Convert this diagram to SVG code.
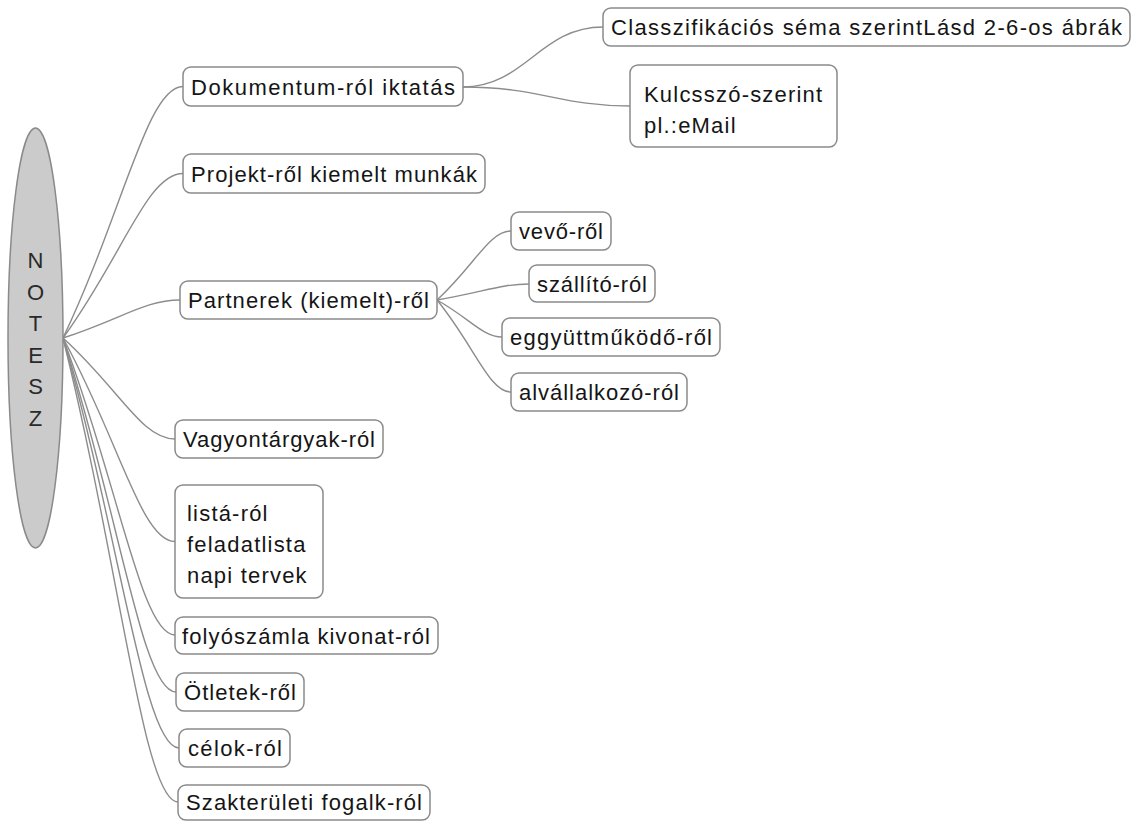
<svg xmlns="http://www.w3.org/2000/svg" width="1139" height="821" viewBox="0 0 1139 821">
<style>
.box{fill:#ffffff;stroke:#8a8a8a;stroke-width:1.5}
.t{font-family:"Liberation Sans",Arial,sans-serif;font-size:22px;fill:#151515}
.ml{letter-spacing:1.2px}
.c{fill:none;stroke:#8c8c8c;stroke-width:1.4}
.root{fill:#cbcbcb;stroke:#8a8a8a;stroke-width:1.5}
.rt{font-family:"Liberation Sans",Arial,sans-serif;font-size:22px;fill:#2a2a2a;text-anchor:middle}
</style>
<rect width="1139" height="821" fill="#ffffff"/>
<g id="connectors">
<path class="c" d="M63 338 C123 212.25 147 86.5 183 86.5"/>
<path class="c" d="M63 338 C123 255.75 147 173.5 183 173.5"/>
<path class="c" d="M63 338 C121.5 319 144.9 300 180 300"/>
<path class="c" d="M63 338 C119 388.5 141.4 439 175 439"/>
<path class="c" d="M63 338 C119 439.75 141.4 541.5 175 541.5"/>
<path class="c" d="M63 338 C119 486.5 141.4 635 175 635"/>
<path class="c" d="M63 338 C119.5 515 142.1 692 176 692"/>
<path class="c" d="M63 338 C121 543 144.2 748 179 748"/>
<path class="c" d="M63 338 C120.5 570 143.5 802 178 802"/>
<path class="c" d="M463 87 C525 87 540 27 603 27"/>
<path class="c" d="M463 87 C540 87 560 106 630 106"/>
<path class="c" d="M437 300 C474.5 265.5 489.1 231 511 231"/>
<path class="c" d="M437 300 C483.5 292 501.7 284 529 284"/>
<path class="c" d="M437 300 C470 318.5 482.8 337 502 337"/>
<path class="c" d="M437 300 C474.5 346 489.1 392 511 392"/>
</g>
<g id="root">
<ellipse class="root" cx="35.5" cy="338" rx="27.5" ry="210"/>
<text class="rt" x="35.5" y="268">N</text>
<text class="rt" x="35.5" y="299.6">O</text>
<text class="rt" x="35.5" y="331.2">T</text>
<text class="rt" x="35.5" y="362.8">E</text>
<text class="rt" x="35.5" y="394.4">S</text>
<text class="rt" x="35.5" y="426">Z</text>
</g>
<g id="n-dokumentum">
<rect class="box" x="183" y="67" width="280" height="39" rx="8"/>
<text class="t" x="191" y="95" textLength="264" lengthAdjust="spacing">Dokumentum-ról iktatás</text>
</g>
<g id="n-class">
<rect class="box" x="603" y="8" width="527" height="38" rx="8"/>
<text class="t" x="611" y="35" textLength="511" lengthAdjust="spacing">Classzifikációs séma szerintLásd 2-6-os ábrák</text>
</g>
<g id="n-kulcsszo">
<rect class="box" x="630" y="65" width="207" height="82" rx="8"/>
<text class="t ml" x="644" y="102">Kulcsszó-szerint</text>
<text class="t ml" x="644" y="133">pl.:eMail</text>
</g>
<g id="n-projekt">
<rect class="box" x="183" y="154" width="302" height="39" rx="8"/>
<text class="t" x="191" y="181.5" textLength="286" lengthAdjust="spacing">Projekt-ről kiemelt munkák</text>
</g>
<g id="n-partnerek">
<rect class="box" x="180" y="281" width="257" height="38" rx="8"/>
<text class="t" x="188" y="308" textLength="241" lengthAdjust="spacing">Partnerek (kiemelt)-ről</text>
</g>
<g id="n-vevo">
<rect class="box" x="511" y="212" width="100" height="38" rx="8"/>
<text class="t" x="519" y="239" textLength="84" lengthAdjust="spacing">vevő-ről</text>
</g>
<g id="n-szallito">
<rect class="box" x="529" y="265" width="126" height="37" rx="8"/>
<text class="t" x="537" y="291.5" textLength="110" lengthAdjust="spacing">szállító-ról</text>
</g>
<g id="n-egyuttmukodo">
<rect class="box" x="502" y="318" width="218" height="38" rx="8"/>
<text class="t" x="510" y="345" textLength="202" lengthAdjust="spacing">eggyüttműködő-ről</text>
</g>
<g id="n-alvallalkozo">
<rect class="box" x="511" y="373" width="176" height="38" rx="8"/>
<text class="t" x="519" y="400" textLength="160" lengthAdjust="spacing">alvállalkozó-ról</text>
</g>
<g id="n-vagyontargyak">
<rect class="box" x="175" y="420" width="208" height="38" rx="8"/>
<text class="t" x="183" y="447" textLength="192" lengthAdjust="spacing">Vagyontárgyak-ról</text>
</g>
<g id="n-lista">
<rect class="box" x="175" y="485" width="148" height="113" rx="8"/>
<text class="t ml" x="187" y="521">listá-ról</text>
<text class="t ml" x="187" y="552">feladatlista</text>
<text class="t ml" x="187" y="583">napi tervek</text>
</g>
<g id="n-folyoszamla">
<rect class="box" x="175" y="617" width="263" height="37" rx="8"/>
<text class="t" x="182" y="643.5" textLength="248" lengthAdjust="spacing">folyószámla kivonat-ról</text>
</g>
<g id="n-otletek">
<rect class="box" x="176" y="673" width="128" height="38" rx="8"/>
<text class="t" x="184" y="700" textLength="112" lengthAdjust="spacing">Ötletek-ről</text>
</g>
<g id="n-celok">
<rect class="box" x="179" y="729" width="111" height="38" rx="8"/>
<text class="t" x="188" y="756" textLength="94" lengthAdjust="spacing">célok-ról</text>
</g>
<g id="n-szakteruleti">
<rect class="box" x="178" y="785" width="252" height="35" rx="8"/>
<text class="t" x="186" y="810" textLength="236" lengthAdjust="spacing">Szakterületi fogalk-ról</text>
</g>
</svg>
